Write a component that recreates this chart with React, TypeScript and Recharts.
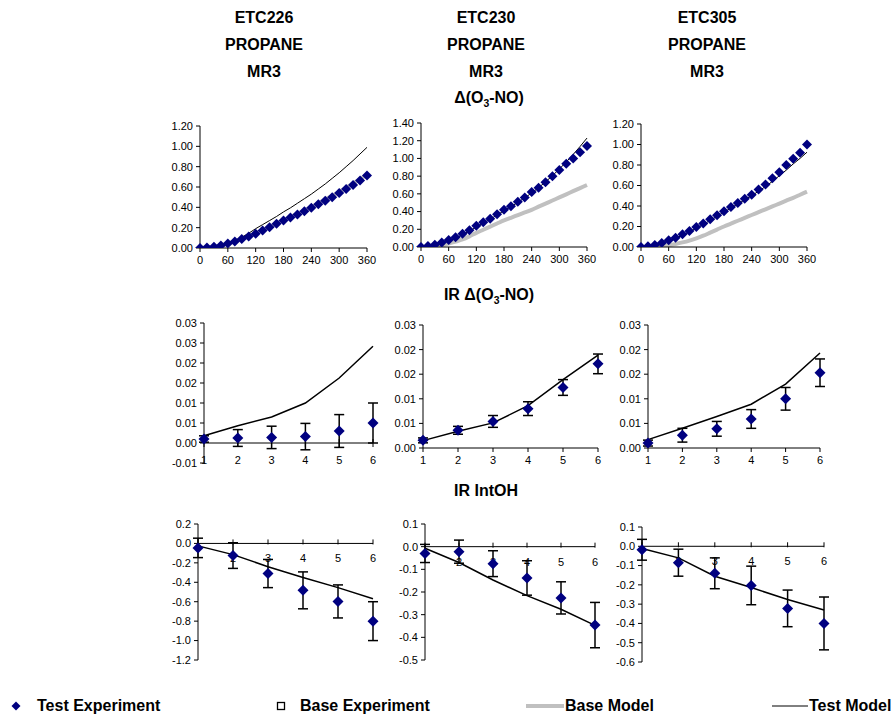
import React from 'react'
import {
  ComposedChart,
  Line,
  Scatter,
  XAxis,
  YAxis,
  ErrorBar,
  ReferenceLine,
  ReferenceDot
} from 'recharts'

const FONT = '"Liberation Sans", Arial, sans-serif'
const NAVY = '#000080'
const GREY = '#c0c0c0'

// elapsed time (min) for the Δ(O3-NO) panels
const minutes = [0, 15, 30, 45, 60, 75, 90, 105, 120, 135, 150, 165, 180, 195, 210, 225, 240, 255, 270, 285, 300, 315, 330, 345, 360]
const timeTicks = [0, 60, 120, 180, 240, 300, 360]

const etc226Exp = [0, 0.005, 0.013, 0.025, 0.045, 0.065, 0.088, 0.112, 0.14, 0.172, 0.205, 0.238, 0.27, 0.3, 0.33, 0.362, 0.395, 0.43, 0.465, 0.5, 0.54, 0.58, 0.62, 0.665, 0.712]
const etc226Base = [0, 0.004, 0.012, 0.025, 0.044, 0.066, 0.09, 0.116, 0.144, 0.175, 0.207, 0.24, 0.273, 0.305, 0.337, 0.37, 0.404, 0.44, 0.476, 0.513, 0.552, 0.592, 0.634, 0.677, 0.722]
const etc226Test = [0, 0.004, 0.012, 0.026, 0.046, 0.072, 0.105, 0.145, 0.19, 0.23, 0.27, 0.31, 0.355, 0.395, 0.44, 0.485, 0.53, 0.58, 0.63, 0.685, 0.74, 0.8, 0.86, 0.925, 0.99]

const etc230Exp = [0, 0.01, 0.025, 0.05, 0.08, 0.11, 0.15, 0.19, 0.24, 0.28, 0.32, 0.37, 0.42, 0.46, 0.51, 0.56, 0.62, 0.67, 0.73, 0.8, 0.87, 0.94, 1.0, 1.07, 1.14]
const etc230Base = [0, 0.002, 0.008, 0.02, 0.038, 0.06, 0.085, 0.12, 0.16, 0.195, 0.23, 0.265, 0.3, 0.33, 0.36, 0.39, 0.42, 0.455, 0.49, 0.525, 0.56, 0.595, 0.63, 0.665, 0.7]
const etc230Test = [0, 0.006, 0.02, 0.042, 0.07, 0.1, 0.138, 0.18, 0.225, 0.27, 0.315, 0.36, 0.41, 0.455, 0.505, 0.555, 0.61, 0.67, 0.735, 0.805, 0.88, 0.96, 1.045, 1.135, 1.23]

const etc305Exp = [0, 0.008, 0.02, 0.04, 0.065, 0.09, 0.124, 0.157, 0.195, 0.23, 0.27, 0.31, 0.35, 0.39, 0.43, 0.47, 0.51, 0.56, 0.61, 0.67, 0.73, 0.8, 0.86, 0.92, 1.0]
const etc305Base = [0, 0.001, 0.004, 0.01, 0.018, 0.03, 0.045, 0.063, 0.085, 0.11, 0.14, 0.17, 0.2, 0.228, 0.256, 0.284, 0.312, 0.34, 0.368, 0.396, 0.424, 0.452, 0.48, 0.51, 0.54]
const etc305Test = [0, 0.006, 0.018, 0.036, 0.06, 0.085, 0.115, 0.148, 0.183, 0.22, 0.26, 0.3, 0.34, 0.38, 0.42, 0.46, 0.5, 0.545, 0.59, 0.64, 0.695, 0.75, 0.81, 0.865, 0.925]

// hour index for the incremental reactivity panels
const hours = [1, 2, 3, 4, 5, 6]

const ir226Exp = [0.001, 0.00125, 0.0014, 0.0016, 0.003, 0.005]
const ir226Err = [0.0008, 0.0021, 0.0028, 0.0033, 0.0041, 0.005]
const ir226Test = [0.0018, 0.0043, 0.0065, 0.01, 0.01625, 0.0242]

const ir230Exp = [0.00155, 0.0036, 0.0054, 0.008, 0.0123, 0.0171]
const ir230Err = [0.0005, 0.0008, 0.0012, 0.0014, 0.0016, 0.002]
const ir230Test = [0.0015, 0.0034, 0.0051, 0.0086, 0.0139, 0.0189]

const ir305Exp = [0.001, 0.0026, 0.0039, 0.0059, 0.01, 0.0153]
const ir305Err = [0.0006, 0.0014, 0.0015, 0.0019, 0.0023, 0.0028]
const ir305Test = [0.0017, 0.004, 0.0064, 0.0089, 0.013, 0.0193]

const oh226Exp = [-0.046, -0.125, -0.31, -0.483, -0.597, -0.8]
const oh226Err = [0.1, 0.132, 0.145, 0.19, 0.17, 0.2]
const oh226Test = [-0.025, -0.115, -0.24, -0.35, -0.455, -0.57]

const oh230Exp = [-0.03, -0.022, -0.075, -0.138, -0.226, -0.346]
const oh230Err = [0.04, 0.051, 0.057, 0.076, 0.071, 0.1]
const oh230Test = [-0.007, -0.07, -0.147, -0.216, -0.276, -0.347]

const oh305Exp = [-0.018, -0.085, -0.14, -0.203, -0.322, -0.4]
const oh305Err = [0.054, 0.07, 0.08, 0.1, 0.095, 0.137]
const oh305Test = [-0.012, -0.06, -0.155, -0.214, -0.276, -0.33]

// tick labels
const ticks12 = [0, 0.2, 0.4, 0.6, 0.8, 1.0, 1.2]
const ticks14 = [0, 0.2, 0.4, 0.6, 0.8, 1.0, 1.2, 1.4]
const irTicksA = [-0.005, 0, 0.005, 0.01, 0.015, 0.02, 0.025, 0.03]
const irTicksB = [0, 0.005, 0.01, 0.015, 0.02, 0.025]
const ohTicks226 = [-1.2, -1.0, -0.8, -0.6, -0.4, -0.2, 0, 0.2]
const ohTicks230 = [-0.5, -0.4, -0.3, -0.2, -0.1, 0, 0.1]
const ohTicks305 = [-0.6, -0.5, -0.4, -0.3, -0.2, -0.1, 0, 0.1]

type Box = { left: number; top: number; width: number; height: number }

const YW = 44
const MT = 8
const MR = 10
const XH = 24

const tickStyle = { fontSize: 11, fill: '#000', fontFamily: FONT }

// round half away from zero, the way the spreadsheet prints 0.005 steps
const fmt2 = (v: number) => (Math.sign(v) * Math.round(Math.abs(v) * 100 + 1e-6) / 100).toFixed(2)
const fmt1 = (v: number) => v.toFixed(1)

const diamond = (r: number) => (props: any) => {
  const { cx, cy } = props
  if (cx == null || cy == null) return <g />
  return (
    <polygon
      points={`${cx},${cy - r} ${cx + r},${cy} ${cx},${cy + r} ${cx - r},${cy}`}
      fill={NAVY}
    />
  )
}

function frame(box: Box) {
  return {
    style: { position: 'absolute' as const, left: box.left - YW, top: box.top - MT },
    width: box.width + YW + MR,
    height: box.height + MT + XH
  }
}

type TimePanelProps = {
  box: Box
  exp: number[]
  base: number[]
  test: number[]
  yMax: number
  yTicks: number[]
}

function TimePanel({ box, exp, base, test, yMax, yTicks }: TimePanelProps) {
  const rows = minutes.map((t, i) => ({ t, exp: exp[i], base: base[i], test: test[i] }))
  const f = frame(box)
  return (
    <div style={f.style}>
      <ComposedChart width={f.width} height={f.height} data={rows} margin={{ top: MT, right: MR, left: 0, bottom: 0 }}>
        <XAxis
          dataKey="t"
          type="number"
          domain={[0, 360]}
          ticks={timeTicks}
          interval={0}
          height={XH}
          stroke="#000"
          tick={tickStyle}
          tickSize={4}
          tickMargin={4}
        />
        <YAxis
          type="number"
          domain={[0, yMax]}
          ticks={yTicks}
          interval={0}
          width={YW}
          stroke="#000"
          tick={tickStyle}
          tickSize={4}
          tickMargin={3}
          tickFormatter={(v: number) => v.toFixed(2)}
          allowDataOverflow
        />
        <Line dataKey="base" type="monotone" stroke={GREY} strokeWidth={4} dot={false} isAnimationActive={false} />
        <Line dataKey="test" type="monotone" stroke="#000" strokeWidth={1} dot={false} isAnimationActive={false} />
        <Scatter dataKey="exp" fill={NAVY} shape={diamond(5)} isAnimationActive={false} />
      </ComposedChart>
    </div>
  )
}

type HourPanelProps = {
  box: Box
  exp: number[]
  err: number[]
  test: number[]
  yMin: number
  yMax: number
  yTicks: number[]
  fmt: (v: number) => string
  axis: 'bottom' | 'zeroLow' | 'zero'
}

function HourPanel({ box, exp, err, test, yMin, yMax, yTicks, fmt, axis }: HourPanelProps) {
  const rows = hours.map((h, i) => ({ h, exp: exp[i], err: err[i], test: test[i] }))
  const f = frame(box)
  const plain = axis === 'bottom'
  return (
    <div style={f.style}>
      <ComposedChart width={f.width} height={f.height} data={rows} margin={{ top: MT, right: MR, left: 0, bottom: 0 }}>
        <XAxis
          dataKey="h"
          type="number"
          domain={[1, 6]}
          ticks={hours}
          interval={0}
          height={XH}
          stroke="#000"
          axisLine={plain}
          tickLine={plain}
          tick={plain ? tickStyle : false}
          tickSize={4}
          tickMargin={4}
        />
        <YAxis
          type="number"
          domain={[yMin, yMax]}
          ticks={yTicks}
          interval={0}
          width={YW}
          stroke="#000"
          tick={tickStyle}
          tickSize={4}
          tickMargin={3}
          tickFormatter={fmt}
          allowDataOverflow
        />
        {!plain && <ReferenceLine y={0} stroke="#000" strokeWidth={1} />}
        {!plain &&
          hours.map(h => (
            <ReferenceDot
              key={`t${h}`}
              x={h}
              y={0}
              ifOverflow="visible"
              shape={(p: any) => <line x1={p.cx} x2={p.cx} y1={p.cy - 4} y2={p.cy + (axis === 'zero' ? 1 : 4)} stroke="#000" />}
            />
          ))}
        {axis === 'zeroLow' &&
          hours.map(h => (
            <ReferenceDot
              key={`l${h}`}
              x={h}
              y={yMin}
              ifOverflow="visible"
              shape={(p: any) => (
                <text x={p.cx} y={p.cy + 1} textAnchor="middle" fontSize={11} fontFamily={FONT} fill="#000">{h}</text>
              )}
            />
          ))}
        {axis === 'zero' &&
          hours.slice(1).map(h => (
            <ReferenceDot
              key={`l${h}`}
              x={h}
              y={0}
              ifOverflow="visible"
              shape={(p: any) => (
                <text x={p.cx} y={p.cy + 19} textAnchor="middle" fontSize={11} fontFamily={FONT} fill="#000">{h}</text>
              )}
            />
          ))}
        <Line dataKey="test" stroke="#000" strokeWidth={1.5} dot={false} isAnimationActive={false} />
        <Scatter dataKey="exp" fill={NAVY} shape={diamond(5.5)} isAnimationActive={false}>
          <ErrorBar dataKey="err" direction="y" width={5} stroke="#000" strokeWidth={1.5} />
        </Scatter>
      </ComposedChart>
    </div>
  )
}

function Heading({ cx, cy, children }: { cx: number; cy: number; children: React.ReactNode }) {
  return (
    <div
      style={{
        position: 'absolute',
        left: cx - 150,
        width: 300,
        top: cy - 10,
        height: 20,
        lineHeight: '20px',
        textAlign: 'center',
        fontWeight: 'bold',
        fontSize: 16,
        whiteSpace: 'nowrap'
      }}
    >
      {children}
    </div>
  )
}

const Sub3 = () => <span style={{ fontSize: '0.65em', position: 'relative', top: '0.35em' }}>3</span>

function LegendText({ left, children }: { left: number; children: React.ReactNode }) {
  return (
    <div style={{ position: 'absolute', left, top: 697, lineHeight: '18px', fontSize: 16, fontWeight: 'bold', whiteSpace: 'nowrap' }}>
      {children}
    </div>
  )
}

export default function App() {
  return (
    <div style={{ position: 'absolute', left: 0, top: 0, width: 895, height: 716, background: '#fff', fontFamily: FONT, color: '#000', overflow: 'hidden' }}>
      <Heading cx={264} cy={18}>ETC226</Heading>
      <Heading cx={264} cy={45}>PROPANE</Heading>
      <Heading cx={264} cy={72}>MR3</Heading>
      <Heading cx={486} cy={18}>ETC230</Heading>
      <Heading cx={486} cy={45}>PROPANE</Heading>
      <Heading cx={486} cy={72}>MR3</Heading>
      <Heading cx={707} cy={18}>ETC305</Heading>
      <Heading cx={707} cy={45}>PROPANE</Heading>
      <Heading cx={707} cy={72}>MR3</Heading>
      <Heading cx={489} cy={98}>Δ(O<Sub3 />-NO)</Heading>
      <Heading cx={489} cy={295}>IR Δ(O<Sub3 />-NO)</Heading>
      <Heading cx={486} cy={491}>IR IntOH</Heading>

      <TimePanel box={{ left: 200, top: 126, width: 167, height: 122 }} exp={etc226Exp} base={etc226Base} test={etc226Test} yMax={1.2} yTicks={ticks12} />
      <TimePanel box={{ left: 421, top: 123, width: 166, height: 124 }} exp={etc230Exp} base={etc230Base} test={etc230Test} yMax={1.4} yTicks={ticks14} />
      <TimePanel box={{ left: 641, top: 124, width: 166, height: 123 }} exp={etc305Exp} base={etc305Base} test={etc305Test} yMax={1.2} yTicks={ticks12} />

      <HourPanel box={{ left: 204, top: 323, width: 169, height: 140 }} exp={ir226Exp} err={ir226Err} test={ir226Test} yMin={-0.005} yMax={0.03} yTicks={irTicksA} fmt={fmt2} axis="zeroLow" />
      <HourPanel box={{ left: 423, top: 325, width: 175, height: 123 }} exp={ir230Exp} err={ir230Err} test={ir230Test} yMin={0} yMax={0.025} yTicks={irTicksB} fmt={fmt2} axis="bottom" />
      <HourPanel box={{ left: 648, top: 325, width: 172, height: 123 }} exp={ir305Exp} err={ir305Err} test={ir305Test} yMin={0} yMax={0.025} yTicks={irTicksB} fmt={fmt2} axis="bottom" />

      <HourPanel box={{ left: 198, top: 524, width: 175, height: 136 }} exp={oh226Exp} err={oh226Err} test={oh226Test} yMin={-1.2} yMax={0.2} yTicks={ohTicks226} fmt={fmt1} axis="zero" />
      <HourPanel box={{ left: 425, top: 524, width: 170, height: 136 }} exp={oh230Exp} err={oh230Err} test={oh230Test} yMin={-0.5} yMax={0.1} yTicks={ohTicks230} fmt={fmt1} axis="zero" />
      <HourPanel box={{ left: 642, top: 527, width: 182, height: 135 }} exp={oh305Exp} err={oh305Err} test={oh305Test} yMin={-0.6} yMax={0.1} yTicks={ohTicks305} fmt={fmt1} axis="zero" />

      {/* legend */}
      <svg style={{ position: 'absolute', left: 0, top: 696 }} width={895} height={20}>
        <polygon points="16,5.5 20.5,10 16,14.5 11.5,10" fill={NAVY} />
        <rect x={277.5} y={6.5} width={7} height={7} fill="none" stroke="#000" strokeWidth={1.3} />
        <line x1={526} x2={564} y1={10} y2={10} stroke={GREY} strokeWidth={4} />
        <line x1={772} x2={808} y1={10} y2={10} stroke="#000" strokeWidth={1} />
      </svg>
      <LegendText left={37}>Test Experiment</LegendText>
      <LegendText left={300}>Base Experiment</LegendText>
      <LegendText left={565}>Base Model</LegendText>
      <LegendText left={809}>Test Model</LegendText>
    </div>
  )
}
